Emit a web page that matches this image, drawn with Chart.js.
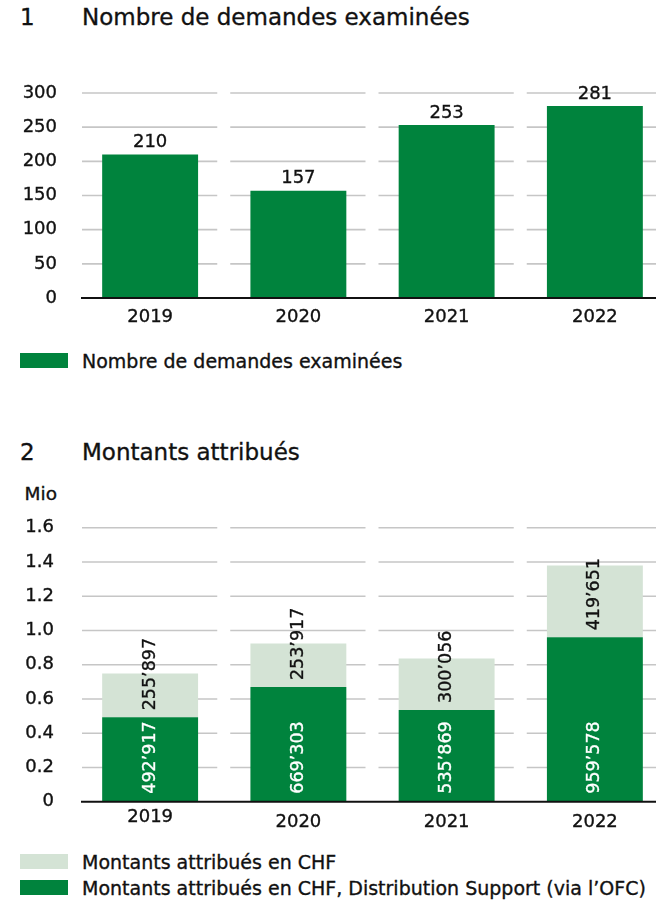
<!DOCTYPE html>
<html>
<head>
<meta charset="utf-8">
<script src="https://cdn.jsdelivr.net/npm/chart.js@4"></script>
<style>
  html, body { margin:0; padding:0; background:#fff; }
  body { width:656px; height:904px; overflow:hidden; position:relative; font-family:'DejaVu Sans', sans-serif; color:#111; }
  .abs { position:absolute; white-space:nowrap; -webkit-text-stroke:0.35px #111; }
  .title { font-size:23px; line-height:23px; }
  .leg { font-size:19px; line-height:19px; }
  .sw { position:absolute; left:20px; width:48px; height:15px; }
  canvas { position:absolute; left:0; }
</style>
</head>
<body>
<div class="abs title" style="left:20px;top:6px;">1</div>
<div class="abs title" style="left:82px;top:6px;" id="t1">Nombre de demandes examinées</div>
<canvas id="c1" width="680" height="340" style="top:0px;"></canvas>
<div class="sw" style="top:353px;background:#00833d;"></div>
<div class="abs leg" style="left:82px;top:352px;" id="l1"></div>

<div class="abs title" style="left:20px;top:441px;">2</div>
<div class="abs title" style="left:82px;top:441px;">Montants attribués</div>
<div class="abs" style="right:599px;top:484px;font-size:18.5px;line-height:19px;">Mio</div>
<canvas id="c2" width="680" height="420" style="top:420px;"></canvas>
<div class="sw" style="top:854px;background:#d4e3d5;"></div>
<div class="abs leg" style="left:82px;top:853px;" id="l2a"></div>
<div class="sw" style="top:880px;background:#00833d;"></div>
<div class="abs leg" style="left:82px;top:879px;" id="l2b"></div>

<script>
// ---- data ----
const years = ['2019', '2020', '2021', '2022'];
const demandes = [210, 157, 253, 281];
const yTickLabels1 = ['0', '50', '100', '150', '200', '250', '300'];
const seriesName1 = 'Nombre de demandes examinées';

const montantsDistribution = [492917, 669303, 535869, 959578];
const montantsCHF = [255897, 253917, 300056, 419651];
const yTickLabels2 = ['0', '0.2', '0.4', '0.6', '0.8', '1.0', '1.2', '1.4', '1.6'];
const seriesNameCHF = 'Montants attribués en CHF';
const seriesNameDist = 'Montants attribués en CHF, Distribution Support (via l\u2019OFC)';

const DARK = '#00833d';
const LIGHT = '#d4e3d5';
const FONT = "'DejaVu Sans'";
const STROKE = 0.35;

document.getElementById('l1').textContent = seriesName1;
document.getElementById('l2a').textContent = seriesNameCHF;
document.getElementById('l2b').textContent = seriesNameDist;

Chart.defaults.font.family = FONT;
Chart.defaults.color = '#111';

function fmt(n) {
  return String(n).replace(/\B(?=(\d{3})+(?!\d))/g, '\u2019');
}

const segGrid = {
  id: 'segGrid',
  beforeDatasetsDraw(chart) {
    const { ctx, chartArea, scales: { x, y } } = chart;
    const n = x.ticks.length;
    const catW = (chartArea.right - chartArea.left) / n;
    ctx.save();
    ctx.strokeStyle = '#c6c6c6';
    ctx.lineWidth = 1.6;
    y.ticks.forEach(t => {
      if (t.value === 0) return;
      const py = y.getPixelForValue(t.value);
      for (let i = 0; i < n; i++) {
        const cx = x.getPixelForValue(i);
        ctx.beginPath();
        ctx.moveTo(cx - catW / 2 + 6, py);
        ctx.lineTo(cx + catW / 2 - 7, py);
        ctx.stroke();
      }
    });
    ctx.restore();
  },
  afterDatasetsDraw(chart) {
    const { ctx, chartArea, scales: { y } } = chart;
    const y0 = y.getPixelForValue(0);
    ctx.save();
    ctx.strokeStyle = '#111';
    ctx.lineWidth = 2;
    ctx.beginPath();
    ctx.moveTo(chartArea.left + 5, y0);
    ctx.lineTo(chart.width, y0);
    ctx.stroke();
    ctx.restore();
  }
};

function label(ctx, text, x, y, color) {
  ctx.fillStyle = color;
  ctx.strokeStyle = color;
  ctx.lineWidth = STROKE;
  ctx.fillText(text, x, y);
  ctx.strokeText(text, x, y);
}

const vals1 = {
  id: 'vals1',
  afterDatasetsDraw(chart) {
    const ctx = chart.ctx;
    const meta = chart.getDatasetMeta(0);
    ctx.save();
    ctx.font = '18px ' + FONT;
    ctx.textAlign = 'center';
    ctx.textBaseline = 'middle';
    meta.data.forEach((bar, i) => {
      label(ctx, String(chart.data.datasets[0].data[i]), bar.x, bar.y - 12, '#111');
    });
    ctx.restore();
  }
};

function drawRot(ctx, text, x, y, color) {
  ctx.save();
  ctx.translate(x, y);
  ctx.rotate(-Math.PI / 2);
  label(ctx, text, 0, 0, color);
  ctx.restore();
}

const vals2 = {
  id: 'vals2',
  afterDatasetsDraw(chart) {
    const ctx = chart.ctx;
    const dark = chart.getDatasetMeta(0);
    const light = chart.getDatasetMeta(1);
    ctx.save();
    ctx.font = '17.5px ' + FONT;
    ctx.textAlign = 'left';
    ctx.textBaseline = 'middle';
    dark.data.forEach((bar, i) => {
      drawRot(ctx, fmt(chart.data.datasets[0].data[i]), bar.x, bar.base - 8, '#fff');
      const lb = light.data[i];
      drawRot(ctx, fmt(chart.data.datasets[1].data[i]), lb.x, lb.base - 7, '#111');
    });
    ctx.restore();
  }
};

const tickStyle = { color: '#111', textStrokeColor: '#111', textStrokeWidth: STROKE };

new Chart(document.getElementById('c1'), {
  type: 'bar',
  data: {
    labels: years,
    datasets: [{
      label: seriesName1,
      data: demandes,
      backgroundColor: DARK,
      borderWidth: 0,
      barPercentage: 0.647,
      categoryPercentage: 1
    }]
  },
  options: {
    responsive: false,
    animation: false,
    layout: { padding: { top: 93, right: 11, bottom: 0, left: 0 } },
    plugins: { legend: { display: false }, tooltip: { enabled: false } },
    scales: {
      x: {
        grid: { display: false, drawTicks: false },
        border: { display: false },
        ticks: Object.assign({ font: { size: 18 }, padding: 9 }, tickStyle),
        afterFit(s) { s.height = 42; }
      },
      y: {
        min: 0, max: 300,
        grid: { display: false, drawTicks: false },
        border: { display: false },
        ticks: Object.assign({ stepSize: 50, font: { size: 18 }, padding: 19,
                 callback: (v, i) => yTickLabels1[i] }, tickStyle),
        afterFit(s) { s.width = 76; }
      }
    }
  },
  plugins: [segGrid, vals1]
});

new Chart(document.getElementById('c2'), {
  type: 'bar',
  data: {
    labels: years,
    datasets: [{
      label: seriesNameDist,
      data: montantsDistribution,
      backgroundColor: DARK,
      borderWidth: 0,
      barPercentage: 0.647,
      categoryPercentage: 1
    }, {
      label: seriesNameCHF,
      data: montantsCHF,
      backgroundColor: LIGHT,
      borderWidth: 0,
      barPercentage: 0.647,
      categoryPercentage: 1
    }]
  },
  options: {
    responsive: false,
    animation: false,
    layout: { padding: { top: 107.7, right: 11, bottom: 0, left: 0 } },
    plugins: { legend: { display: false }, tooltip: { enabled: false } },
    scales: {
      x: {
        stacked: true,
        grid: { display: false, drawTicks: false },
        border: { display: false },
        ticks: Object.assign({
          font: (c) => ({ size: 18, lineHeight: c.index === 0 ? 0.64 : 1.2 }),
          padding: 10
        }, tickStyle),
        afterFit(s) { s.height = 38.3; }
      },
      y: {
        stacked: true,
        min: 0, max: 1600000,
        grid: { display: false, drawTicks: false },
        border: { display: false },
        ticks: Object.assign({ stepSize: 200000, font: { size: 18 }, padding: 22,
                 callback: (v, i) => yTickLabels2[i] }, tickStyle),
        afterFit(s) { s.width = 76; }
      }
    }
  },
  plugins: [segGrid, vals2]
});
</script>
</body>
</html>
